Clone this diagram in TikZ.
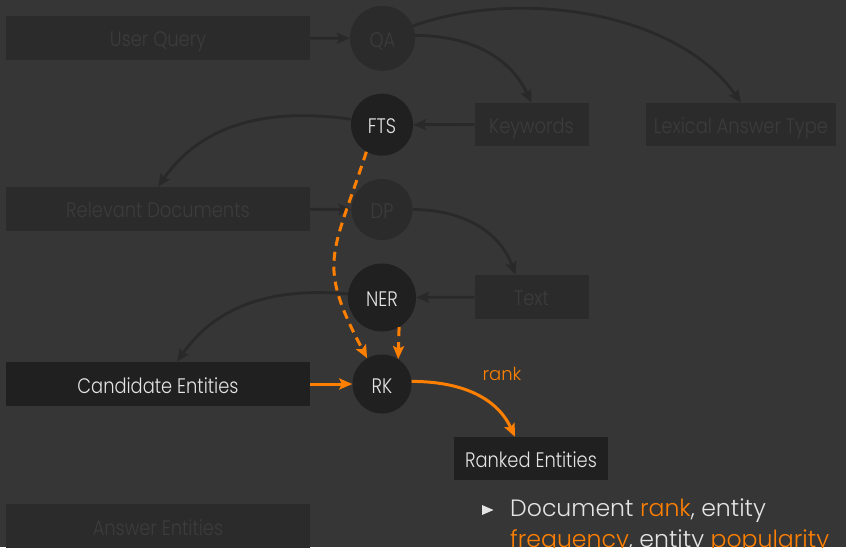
\documentclass[tikz,border=0pt]{standalone}
\usepackage{fontspec}
\setmainfont{Poppins}[UprightFont=* Light]
\newfontfamily\stagefont{Poppins}[UprightFont=* Light, FakeStretch=0.85]
\usetikzlibrary{arrows.meta}
\definecolor{bg}{HTML}{363636}
\definecolor{boxfaded}{HTML}{2B2B2B}
\definecolor{boxdark}{HTML}{202020}
\definecolor{txtfaded}{HTML}{3C3C3C}
\definecolor{txtlight}{HTML}{E4E4E4}
\definecolor{edgefaded}{HTML}{292929}
\definecolor{accent}{HTML}{FF8000}
\tikzset{
  stagebox/.style={rectangle, inner sep=0pt, minimum width=#1, minimum height=44pt,
    font=\stagefont\fontsize{21}{24}\selectfont, text height=18pt, text depth=0pt},
  stagebox/.default=304pt,
  stagecirc/.style={circle, inner sep=0pt, minimum size=#1,
    font=\stagefont\fontsize{21}{24}\selectfont, text height=18pt, text depth=0pt},
  faded/.style={fill=boxfaded, text=txtfaded},
  active/.style={fill=boxdark, text=txtlight},
  tip/.style={-{Stealth[length=13pt,width=11pt,inset=2.5pt]}},
  flow/.style={tip, draw=edgefaded, line width=2.8pt},
  hot/.style={tip, draw=accent, line width=3pt},
  hotdash/.style={hot, dash pattern=on 9pt off 6pt},
}
\begin{document}
\begin{tikzpicture}[x=1pt, y=1pt]
\useasboundingbox[fill=bg] (0,0) rectangle (846,547);

% column of stage boxes on the left
\node[stagebox, faded] (uq)   at (158,509) {User Query};
\node[stagebox, faded] (rd)   at (158,338) {Relevant Documents};
\node[stagebox, active] (cand) at (158,163) {Candidate Entities};
\node[stagebox, faded] (ans)  at (158,21)  {Answer Entities};

% processing steps
\node[stagecirc=65pt, faded]  (qa)  at (382.5,508.7) {QA};
\node[stagecirc=62pt, active] (fts) at (382,422.3)   {FTS};
\node[stagecirc=61pt, faded]  (dp)  at (382,337.5)   {DP};
\node[stagecirc=68pt, active] (ner) at (382,249.5)   {NER};
\node[stagecirc=59pt, active] (rk)  at (382,163)     {RK};

% intermediate results
\node[stagebox=114pt, faded, minimum height=43pt] (kw)  at (531.5,422.5) {Keywords};
\node[stagebox=190pt, faded, minimum height=43pt] (lat) at (741,422.5)   {Lexical Answer Type};
\node[stagebox=114pt, faded] (txt) at (531.5,250) {Text};
\node[stagebox=154pt, active, minimum height=43pt] (rke) at (531,88.5) {Ranked Entities};

% inactive pipeline
\draw[flow] (uq) -- (qa);
\draw[flow] (qa.5) to[out=0,in=115] (kw.north);
\draw[flow] (qa.22) to[out=20,in=125,looseness=0.85] (lat.north);
\draw[flow] (kw) -- (fts);
\draw[flow] (fts.170) to[out=172,in=55] (rd.north);
\draw[flow] (rd) -- (dp);
\draw[flow] (dp.east) to[out=0,in=110] ([xshift=-16pt]txt.north);
\draw[flow] (txt) -- (ner);
\draw[flow] (ner.174) to[out=175,in=55] ([xshift=19pt]cand.north);

% ranking step
\draw[hot] (cand) -- (rk);
\draw[hotdash] (fts.240) to[out=252,in=118,looseness=1.35] (rk.120);
\draw[hotdash] (ner.300) -- (rk.57);
\draw[hot] (rk.5) to[out=0,in=115] ([xshift=-16pt]rke.north);
\node[text=accent, font=\fontsize{18}{21}\selectfont] (ranklbl) at (502,173) {rank};

% feature list
\fill[txtlight] (482,42) -- (493.5,37) -- (482,32) -- cycle;
\node[anchor=base west, inner sep=0pt, text=txtlight, align=left,
      font=\fontsize{23.6}{31}\selectfont] (feat) at (510,-0.7)
  {Document \textcolor{accent}{rank}, entity\\
   \textcolor{accent}{frequency}, entity \textcolor{accent}{popularity}};
\end{tikzpicture}
\end{document}
